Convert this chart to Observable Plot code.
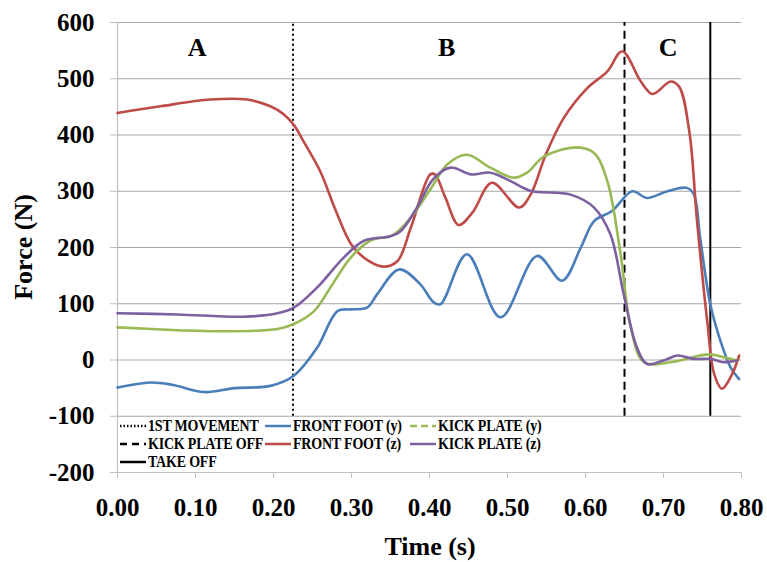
<!DOCTYPE html>
<html>
<head>
<meta charset="utf-8">
<script src="https://cdn.jsdelivr.net/npm/d3@7"></script>
<script src="https://cdn.jsdelivr.net/npm/@observablehq/plot@0.6"></script>
<style>
  html, body { margin: 0; padding: 0; background: #fff; }
  #wrap { position: relative; width: 767px; height: 562px; font-family: "Liberation Serif", "Times New Roman", serif; font-weight: bold; }
  #legend { position: absolute; left: 118px; top: 417px; width: 622px; height: 54px; background: #fff; }
  .item { position: absolute; height: 18px; display: flex; align-items: center; font-size: 14px; white-space: nowrap; color: #000; }
  .item span { display: inline-block; transform: scaleY(1.18); transform-origin: 50% 50%; letter-spacing: -0.2px; }
  .item svg { margin-right: 2px; }
</style>
</head>
<body>
<div id="wrap"></div>
<script>
// ---- data ----
const frontFootYTime  = [0, 0.042, 0.07, 0.111, 0.15, 0.196, 0.226, 0.256, 0.282, 0.299, 0.32, 0.333, 0.361, 0.388, 0.405, 0.414, 0.448, 0.491, 0.538, 0.570, 0.594, 0.611, 0.634, 0.66, 0.679, 0.705, 0.730, 0.739, 0.747, 0.76, 0.773, 0.786, 0.797];
const frontFootYForce = [-49, -40, -44, -57, -50, -46, -28, 22, 87, 90, 93, 117, 161, 135, 103, 99, 188, 76, 185, 141, 200, 247, 265, 300, 288, 300, 306, 294, 217, 99, 34, -13, -34];

const frontFootZTime  = [0, 0.055, 0.119, 0.166, 0.196, 0.213, 0.226, 0.24, 0.26, 0.28, 0.30, 0.32, 0.341, 0.359, 0.376, 0.401, 0.407, 0.42, 0.4375, 0.455, 0.48, 0.515, 0.53, 0.549, 0.572, 0.602, 0.628, 0.647, 0.671, 0.686, 0.709, 0.72, 0.733, 0.743, 0.756, 0.765, 0.775, 0.788, 0.797];
const frontFootZForce = [439, 451, 463, 463, 451, 437, 418, 385, 335, 265, 205, 178, 166, 176, 235, 330, 330, 290, 240, 262, 315, 271, 295, 365, 430, 483, 513, 549, 495, 473, 495, 486, 407, 247, 70, -25, -51, -25, 8];

const kickPlateYTime  = [0, 0.077, 0.132, 0.205, 0.226, 0.252, 0.273, 0.299, 0.324, 0.354, 0.376, 0.401, 0.423, 0.448, 0.478, 0.508, 0.525, 0.547, 0.589, 0.611, 0.628, 0.645, 0.658, 0.675, 0.709, 0.747, 0.76, 0.777, 0.794];
const kickPlateYForce = [58, 53, 51, 55, 64, 87, 129, 182, 212, 223, 253, 303, 348, 365, 342, 324, 333, 362, 378, 368, 318, 188, 58, -4, -4, 8, 10, 5, -1];

const kickPlateZTime  = [0, 0.077, 0.162, 0.205, 0.226, 0.256, 0.29, 0.316, 0.35, 0.363, 0.384, 0.405, 0.427, 0.453, 0.478, 0.504, 0.529, 0.581, 0.611, 0.632, 0.649, 0.666, 0.679, 0.70, 0.718, 0.739, 0.76, 0.777, 0.794];
const kickPlateZForce = [83, 81, 77, 83, 93, 129, 182, 212, 220, 229, 271, 322, 342, 330, 333, 318, 301, 294, 271, 223, 117, 22, -7, -1, 8, 2, 2, -4, -1];

const eventNames = ["1ST MOVEMENT", "KICK PLATE OFF", "TAKE OFF"];
const eventTimes = [0.225, 0.65, 0.76];

const phaseLabels = ["A", "B", "C"];
const phaseTimes  = [0.102, 0.422, 0.706];
const phaseForce  = 556;

const xTicks = [0, 0.1, 0.2, 0.3, 0.4, 0.5, 0.6, 0.7, 0.8];
const yTicks = [-200, -100, 0, 100, 200, 300, 400, 500, 600];

// ---- build tables ----
const zip = (ts, fs) => ts.map((t, i) => ({t, f: fs[i]}));
const series = [
  {name: "FRONT FOOT (y)", color: "#4a7ebb", data: zip(frontFootYTime, frontFootYForce)},
  {name: "FRONT FOOT (z)", color: "#be4b48", data: zip(frontFootZTime, frontFootZForce)},
  {name: "KICK PLATE (y)", color: "#98b954", data: zip(kickPlateYTime, kickPlateYForce)},
  {name: "KICK PLATE (z)", color: "#7d60a0", data: zip(kickPlateZTime, kickPlateZForce)}
];
const eventDash = ["2,3", "8,5", null];

const marks = [];
// gridlines
marks.push(Plot.ruleY(yTicks.filter(d => d > -200), {stroke: "#a6a6a6", strokeWidth: 1}));
// axes lines
marks.push(Plot.ruleX([0], {stroke: "#bfbfbf", strokeWidth: 1.2}));
marks.push(Plot.ruleY([-200], {stroke: "#bfbfbf", strokeWidth: 1.2}));
// event lines
eventTimes.forEach((t, i) => {
  marks.push(Plot.ruleX([t], {y1: -100, y2: 600, stroke: "#000", strokeWidth: 2, strokeDasharray: eventDash[i]}));
});
// series
series.forEach(s => {
  marks.push(Plot.line(s.data, {x: "t", y: "f", stroke: s.color, strokeWidth: 2.6, curve: "catmull-rom"}));
});
// phase labels
marks.push(Plot.text(phaseLabels, {x: (d, i) => phaseTimes[i], y: () => phaseForce, text: d => d, fontSize: 26, fill: "#000"}));
// axes
marks.push(Plot.axisX({ticks: xTicks, tickFormat: d => d.toFixed(2), tickSize: 6, tickPadding: 20, fontSize: 25, stroke: "#bfbfbf", fill: "#000", label: null}));
marks.push(Plot.axisY({ticks: yTicks, tickFormat: d => String(d), tickSize: 7, tickPadding: 16, fontSize: 25, stroke: "#bfbfbf", fill: "#000", label: null}));

const chart = Plot.plot({
  width: 767,
  height: 562,
  marginLeft: 117,
  marginRight: 26,
  marginTop: 22,
  marginBottom: 90,
  x: {domain: [0, 0.8]},
  y: {domain: [-200, 600]},
  style: {fontFamily: "Liberation Serif, Times New Roman, serif", fontWeight: "bold", background: "#fff", overflow: "visible"},
  marks
});

const wrap = document.getElementById("wrap");
wrap.appendChild(chart);

// axis titles
const svg = d3.select(chart);
svg.append("text").attr("x", 430).attr("y", 555).attr("text-anchor", "middle")
  .attr("font-size", 26).attr("font-weight", "bold").attr("fill", "#000").text("Time (s)");
svg.append("text").attr("transform", "translate(32,247) rotate(-90)").attr("text-anchor", "middle")
  .attr("font-size", 26).attr("font-weight", "bold").attr("fill", "#000").text("Force (N)");

// legend (drawn over the bottom band of the plot)
const legend = document.createElement("div");
legend.id = "legend";
wrap.appendChild(legend);
const legendItems = [
  {label: eventNames[0], color: "#000", dash: "1.5,2", x: 2, y: 0},
  {label: series[0].name, color: series[0].color, dash: null, x: 147, y: 0},
  {label: series[2].name, color: series[2].color, dash: "7,4", x: 292, y: 0},
  {label: eventNames[1], color: "#000", dash: "7,5", x: 2, y: 18},
  {label: series[1].name, color: series[1].color, dash: null, x: 147, y: 18},
  {label: series[3].name, color: series[3].color, dash: null, x: 292, y: 18},
  {label: eventNames[2], color: "#000", dash: null, x: 2, y: 36}
];
legendItems.forEach(it => {
  const d = document.createElement("div");
  d.className = "item";
  d.style.left = it.x + "px";
  d.style.top = it.y + "px";
  d.innerHTML = `<svg width="26" height="6"><line x1="0" y1="3" x2="26" y2="3" stroke="${it.color}" stroke-width="2.5" ${it.dash ? `stroke-dasharray="${it.dash}"` : ""}/></svg><span>${it.label}</span>`;
  legend.appendChild(d);
});
</script>
</body>
</html>
